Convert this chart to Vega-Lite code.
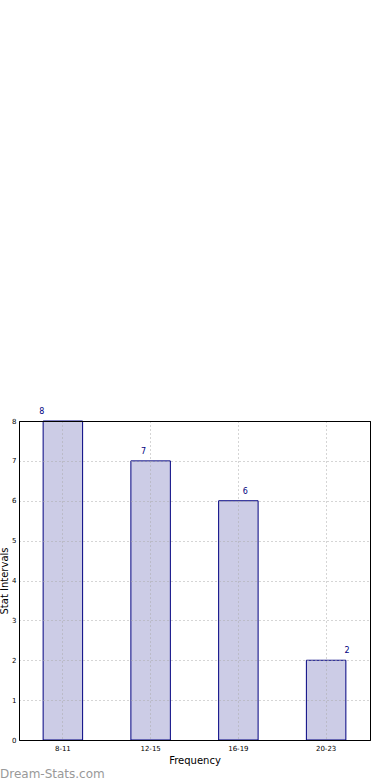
{
  "$schema": "https://vega.github.io/schema/vega-lite/v6.json",
  "width": 351,
  "height": 319,
  "autosize": {"type": "none"},
  "padding": {"left": 19, "top": 421, "right": 20, "bottom": 40},
  "background": "white",
  "config": {
    "font": "DejaVu Sans",
    "view": {"stroke": "black", "strokeWidth": 1},
    "axis": {"labelFont": "DejaVu Sans", "titleFont": "DejaVu Sans"}
  },
  "title": {
    "text": "Dream-Stats.com",
    "orient": "bottom",
    "anchor": "start",
    "frame": "group",
    "dx": -19,
    "offset": 4,
    "fontSize": 12,
    "fontWeight": "normal",
    "color": "#999999",
    "font": "DejaVu Sans"
  },
  "data": {
    "values": [
      {"interval": "8-11", "frequency": 8},
      {"interval": "12-15", "frequency": 7},
      {"interval": "16-19", "frequency": 6},
      {"interval": "20-23", "frequency": 2}
    ]
  },
  "layer": [
    {
      "mark": {"type": "bar", "fill": "#ccccE6", "stroke": "#000080", "strokeWidth": 1, "cornerRadius": 0},
      "encoding": {
        "x": {
          "field": "interval",
          "type": "nominal",
          "sort": null,
          "scale": {"paddingInner": 0.55, "paddingOuter": 0.275},
          "axis": {
            "title": "Frequency",
            "titleFontSize": 10,
            "titleFontWeight": "normal",
            "titlePadding": 4,
            "labelAngle": 0,
            "labelFontSize": 7,
            "labelColor": "black",
            "labelPadding": 4,
            "ticks": false,
            "domain": true,
            "domainColor": "black",
            "grid": true,
            "gridDash": [1, 3],
            "gridColor": "#aaaaaa",
            "gridWidth": 1,
            "zindex": 1
          }
        },
        "y": {
          "field": "frequency",
          "type": "quantitative",
          "scale": {"domain": [0, 8], "nice": false},
          "axis": {
            "title": "Stat Intervals",
            "titleFontSize": 10,
            "titleFontWeight": "normal",
            "titleX": -10,
            "titleBaseline": "bottom",
            "values": [0, 1, 2, 3, 4, 5, 6, 7, 8],
            "labelOverlap": false,
            "labelFontSize": 7,
            "labelColor": "black",
            "labelPadding": 3,
            "ticks": false,
            "domain": true,
            "domainColor": "black",
            "grid": true,
            "gridDash": [1, 3],
            "gridColor": "#aaaaaa",
            "gridWidth": 1,
            "zindex": 1
          }
        }
      }
    },
    {
      "mark": {"type": "text", "baseline": "bottom", "align": "center", "dy": -5, "fontSize": 8, "color": "#000080"},
      "encoding": {
        "x": {
          "field": "interval",
          "type": "ordinal",
          "sort": null,
          "scale": {"type": "point", "padding": 0.225},
          "axis": {
            "orient": "top",
            "title": null,
            "labels": false,
            "ticks": false,
            "grid": false,
            "domain": true,
            "domainColor": "black",
            "zindex": 2
          }
        },
        "y": {
          "field": "frequency",
          "type": "quantitative",
          "axis": {
            "orient": "right",
            "title": null,
            "labels": false,
            "ticks": false,
            "grid": false,
            "domain": true,
            "domainColor": "black",
            "zindex": 2
          }
        },
        "text": {"field": "frequency", "type": "quantitative"}
      }
    }
  ],
  "resolve": {"scale": {"x": "independent"}, "axis": {"y": "independent"}}
}
